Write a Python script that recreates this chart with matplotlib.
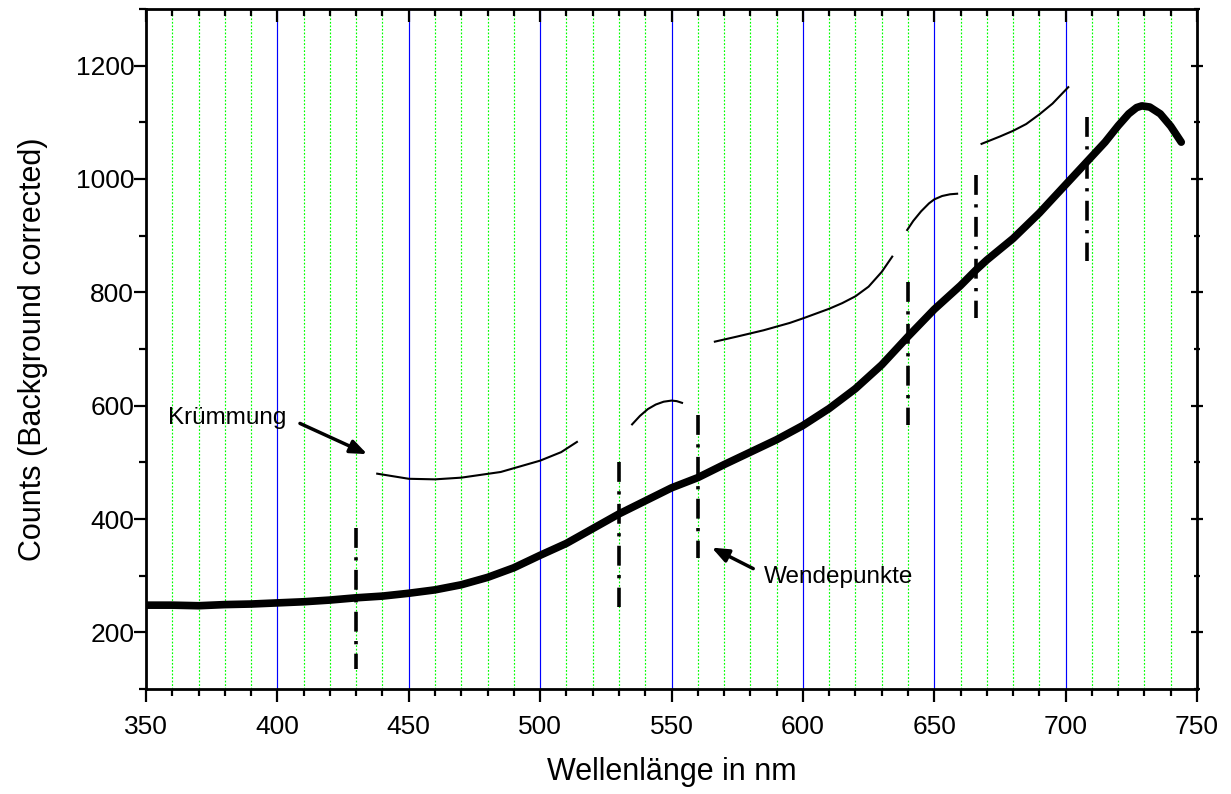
import matplotlib
matplotlib.use("Agg")
import matplotlib.pyplot as plt
from matplotlib.ticker import MultipleLocator

plt.rcParams['font.family'] = ['Liberation Sans', 'DejaVu Sans']

wl = [350, 360, 370, 380, 390, 400, 410, 420, 430, 440, 450, 460, 470, 480,
      490, 500, 510, 520, 530, 540, 550, 560, 570, 580, 590, 600, 610, 620,
      630, 640, 650, 660, 666, 670, 680, 690, 700, 708, 715, 720, 724, 727, 729,
      732, 736, 740, 744]
counts = [248, 248, 247, 249, 250, 252, 254, 257, 261, 264, 269, 275, 284, 297,
          314, 336, 357, 383, 409, 432, 455, 473, 496, 518, 540, 565, 595, 630,
          672, 722, 770, 812, 840, 857, 895, 940, 990, 1030, 1065, 1094, 1115, 1126, 1129,
          1127, 1115, 1093, 1065]

# inflection points (dash-dot markers): x, bottom, top
wende_x = [430, 530, 560, 640, 666, 708]
wende_lo = [136, 244, 331, 566, 755, 855]
wende_hi = [385, 500, 583, 818, 1007, 1110]

# hand drawn curvature arcs
arc1_x = [438, 450, 460, 470, 485, 500, 508, 514]
arc1_y = [480, 471, 470, 473, 483, 503, 518, 536]
arc2_x = [535, 538, 541, 544, 547, 550, 552, 554]
arc2_y = [567, 582, 594, 602, 607, 609, 608, 605]
arc3_x = [566.5, 575, 585, 595, 600, 610, 615, 620, 625, 630, 634]
arc3_y = [713, 722, 733, 746, 754, 771, 781, 793, 810, 836, 863]
arc4_x = [639.7, 642, 645, 648, 650, 653, 656, 658.7]
arc4_y = [910, 926, 943, 957, 964, 970, 973, 974]
arc5_x = [668, 675, 680, 685, 690, 695, 701]
arc5_y = [1062, 1075, 1085, 1097, 1114, 1133, 1162]

fig = plt.figure(figsize=(12.31, 7.94), dpi=100)
ax = fig.add_axes([0.1186, 0.1322, 0.8538, 0.8565])

ax.set_xlim(350, 750)
ax.set_ylim(100, 1300)

# grid: blue at majors, green dotted at minors
for x in range(400, 750, 50):
    ax.axvline(x, color='blue', lw=0.85, zorder=1)
for x in range(360, 750, 10):
    if x % 50 != 0:
        ax.axvline(x, color='#00ff00', lw=0.85, ls=(0, (1.5, 1.5)), zorder=1)

ax.plot(wl, counts, color='black', lw=5.5, solid_capstyle='round',
        solid_joinstyle='round', zorder=3)

for x, lo, hi in zip(wende_x, wende_lo, wende_hi):
    ax.plot([x, x], [hi, lo], color='black', lw=2.6,
            ls=(0, (5.5, 2.6, 0.9, 2.6)), dash_capstyle='butt', zorder=4)

for xs, ys in [(arc1_x, arc1_y), (arc2_x, arc2_y), (arc3_x, arc3_y),
               (arc4_x, arc4_y), (arc5_x, arc5_y)]:
    ax.plot(xs, ys, color='black', lw=1.5, zorder=4)

arrow = dict(arrowstyle='-|>,head_length=1.0,head_width=0.4', color='black',
             lw=2.5, shrinkA=0, shrinkB=0)
ax.annotate('Krümmung', xy=(434.2, 514.5), xytext=(358.5, 577.5),
            fontsize=17.5, va='center', ha='left', zorder=5)
ax.annotate('', xy=(434.2, 514.5), xytext=(408.6, 568.7), arrowprops=arrow)
ax.annotate('Wendepunkte', xy=(565.3, 349.6), xytext=(585.3, 297.7),
            fontsize=17.5, va='center', ha='left', zorder=5)
ax.annotate('', xy=(565.3, 349.6), xytext=(581.1, 312.5), arrowprops=arrow)

ax.xaxis.set_major_locator(MultipleLocator(50))
ax.xaxis.set_minor_locator(MultipleLocator(10))
ax.yaxis.set_major_locator(MultipleLocator(200))
ax.yaxis.set_minor_locator(MultipleLocator(100))

ax.tick_params(axis='both', which='major', labelsize=19, width=1.6, length=9,
               direction='out', pad=4)
ax.tick_params(axis='both', which='minor', width=1.6, length=5, direction='out')
ax.tick_params(axis='x', which='major', pad=10)
ax.tick_params(top=True, which='both', direction='in')
ax.tick_params(axis='x', which='major', top=True, length=9)
ax.tick_params(axis='y', right=True, which='both', direction='inout', length=4)
ax.tick_params(axis='y', left=True, which='major', length=9)
ax.tick_params(axis='y', left=True, which='minor', length=5)
# left and bottom outward, top inward
ax.xaxis.set_tick_params(which='both', direction='out', bottom=True)
for t in ax.xaxis.get_major_ticks() + ax.xaxis.get_minor_ticks():
    t.tick2line.set_marker(3)
for t in ax.yaxis.get_major_ticks() + ax.yaxis.get_minor_ticks():
    t.tick1line.set_marker(0)

for s in ax.spines.values():
    s.set_linewidth(2)

ax.set_xlabel('Wellenlänge in nm', fontsize=22, labelpad=13)
ax.set_ylabel('Counts (Background corrected)', fontsize=22, labelpad=20)

fig.savefig('out.png', dpi=100)
